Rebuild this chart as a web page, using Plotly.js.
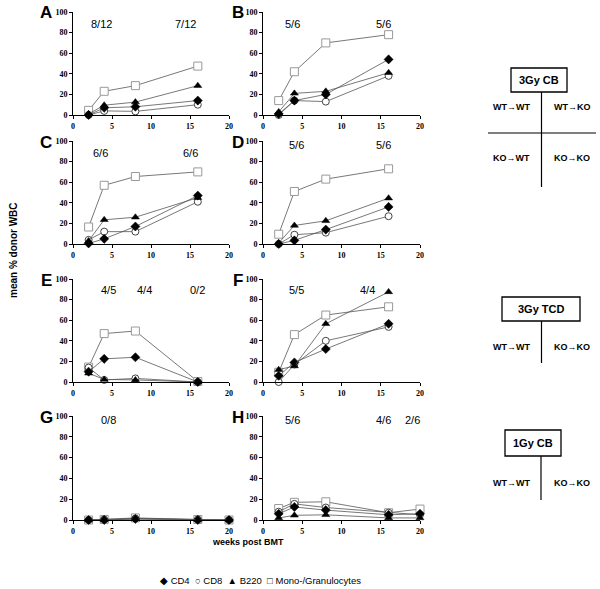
<!DOCTYPE html>
<html>
<head>
<meta charset="utf-8">
<script src="https://cdn.plot.ly/plotly-3.0.1.min.js"></script>
<style>html,body{margin:0;padding:0;background:#fff;}#chart{width:600px;height:589px;}</style>
</head>
<body>
<div id="chart"></div>
<script>
// ---------- DATA ----------
const panels = ["A","B","C","D","E","F","G","H"];
const weeks4 = [2, 4, 8, 16];
const weeks5 = [2, 4, 8, 16, 20];
const seriesNames = ["CD4", "CD8", "B220", "Mono-/Granulocytes"];

const A_CD4 = [0, 7, 8, 14];
const A_CD8 = [0, 4, 3.5, 10];
const A_B220 = [1, 9.5, 12.5, 28.5];
const A_Mono = [4.5, 23, 28.5, 47.5];

const B_CD4 = [1, 14, 20, 54];
const B_CD8 = [0, 14, 13, 38];
const B_B220 = [3, 21, 23, 41];
const B_Mono = [14, 42, 70, 78];

const C_CD4 = [0.5, 5, 17, 47];
const C_CD8 = [4, 12, 12, 41];
const C_B220 = [3, 23.5, 26, 45];
const C_Mono = [16.5, 57, 65.5, 70];

const D_CD4 = [0, 3.5, 14, 36];
const D_CD8 = [0, 9, 11, 27];
const D_B220 = [1, 18, 22.5, 44.5];
const D_Mono = [9.5, 51, 63, 73];

const E_CD4 = [10, 22.5, 24, 0];
const E_CD8 = [14, 2, 3.5, 0];
const E_B220 = [8.5, 2.5, 2, 0];
const E_Mono = [14.5, 47, 49.5, 0.5];

const F_CD4 = [6, 19, 32, 56.5];
const F_CD8 = [0, 17, 40, 53.5];
const F_B220 = [12, 15.5, 56.5, 87.5];
const F_Mono = [9.5, 46, 65, 73];

const G_CD4 = [0, 0, 1, 0, 0];
const G_CD8 = [0, 0.5, 1.5, 0.5, 0];
const G_B220 = [0, 0, 1, 0, 0];
const G_Mono = [0, 0.5, 2, 0.5, 0];

const H_CD4 = [6, 12.5, 9.5, 5, 6];
const H_CD8 = [8, 15.5, 12, 7, 5];
const H_B220 = [2, 4.5, 5, 2, 2];
const H_Mono = [11, 17, 17.5, 7, 10.5];

// engraftment counts per panel: [week position, text]
const countX = {A:[3.7,14.4], B:[3.7,15.3], C:[3.5,15.1], D:[4.3,15.3], E:[4.5,9.2,16], F:[4.3,13.3], G:[4.5], H:[3.7,15.3,19.1]};
const countText = {A:["8/12","7/12"], B:["5/6","5/6"], C:["6/6","6/6"], D:["5/6","5/6"], E:["4/5","4/4","0/2"], F:["5/5","4/4"], G:["0/8"], H:["5/6","4/6","2/6"]};
const countY = {A:88, B:88, C:88, D:96, E:89, F:89, G:96, H:96};

const xTicks = [0, 5, 10, 15, 20];
const yTicks = [0, 20, 40, 60, 80, 100];

const panelData = {
  A:{x:weeks4, s:[A_CD4, A_CD8, A_B220, A_Mono]},
  B:{x:weeks4, s:[B_CD4, B_CD8, B_B220, B_Mono]},
  C:{x:weeks4, s:[C_CD4, C_CD8, C_B220, C_Mono]},
  D:{x:weeks4, s:[D_CD4, D_CD8, D_B220, D_Mono]},
  E:{x:weeks4, s:[E_CD4, E_CD8, E_B220, E_Mono]},
  F:{x:weeks4, s:[F_CD4, F_CD8, F_B220, F_Mono]},
  G:{x:weeks5, s:[G_CD4, G_CD8, G_B220, G_Mono]},
  H:{x:weeks5, s:[H_CD4, H_CD8, H_B220, H_Mono]}
};

// ---------- LAYOUT GEOMETRY (pixels) ----------
const W = 600, H = 589;
const px = v => v / W;
const py = v => 1 - v / H;
const colX = [[73, 229], [263, 420]];
const rowY = [[12, 115], [141, 244], [279, 382], [416, 520]];

const markerStyles = [
  {symbol:"diamond", size:7, color:"#000", line:{color:"#000", width:0.5}},
  {symbol:"circle", size:7, color:"#fff", line:{color:"#444", width:1}},
  {symbol:"triangle-up", size:7, color:"#000", line:{color:"#000", width:0.5}},
  {symbol:"square", size:8, color:"#fff", line:{color:"#999", width:1}}
];
const drawOrder = [3, 1, 0, 2];

const traces = [];
const layout = {
  width: W, height: H,
  margin: {l:0, r:0, t:0, b:0},
  paper_bgcolor: "#fff", plot_bgcolor: "rgba(0,0,0,0)",
  showlegend: false,
  font: {color: "#000000"},
  annotations: [], shapes: []
};

const tickFont = {family:"Liberation Serif, Times New Roman, serif", size:8, color:"#000000", weight:"bold"};

panels.forEach((p, i) => {
  const col = i % 2, row = Math.floor(i / 2);
  const n = i + 1;
  const xa = "x" + (n === 1 ? "" : n), ya = "y" + (n === 1 ? "" : n);
  const xKey = "xaxis" + (n === 1 ? "" : n), yKey = "yaxis" + (n === 1 ? "" : n);
  layout[xKey] = {
    domain: [px(colX[col][0]), px(colX[col][1])],
    anchor: ya, range: [0, 20], tickvals: xTicks, ticktext: xTicks.map(String),
    color: "#000000",
    ticks: "outside", ticklen: 3, tickcolor: "#000", tickwidth: 1,
    showline: true, linecolor: "#000", linewidth: 1,
    showgrid: false, zeroline: false, tickfont: tickFont, fixedrange: true
  };
  layout[yKey] = {
    domain: [py(rowY[row][1]), py(rowY[row][0])],
    anchor: xa, range: [0, 100], tickvals: yTicks, ticktext: yTicks.map(String),
    color: "#000000",
    ticks: "outside", ticklen: 3, tickcolor: "#000", tickwidth: 1,
    showline: true, linecolor: "#000", linewidth: 1,
    showgrid: false, zeroline: false, tickfont: tickFont, fixedrange: true
  };
  const d = panelData[p];
  drawOrder.forEach(k => {
    traces.push({
      type: "scatter", mode: "lines+markers",
      x: d.x, y: d.s[k], name: seriesNames[k],
      xaxis: xa, yaxis: ya, cliponaxis: false,
      line: {color: "#555", width: 0.8},
      marker: markerStyles[k]
    });
  });
  // counts
  countText[p].forEach((t, j) => {
    layout.annotations.push({
      xref: xa, yref: ya, x: countX[p][j], y: countY[p], text: t, showarrow: false,
      font: {family: "Liberation Sans, Arial, sans-serif", size: 11, color: "#000"}
    });
  });
  // panel letter
  layout.annotations.push({
    xref: "paper", yref: "paper", x: px(col === 0 ? 46 : 238), y: py(rowY[row][0] + 1),
    text: "<b>" + p + "</b>", showarrow: false, xanchor: "center", yanchor: "middle",
    font: {family: "Liberation Sans, Arial, sans-serif", size: 17, color: "#000"}
  });
});

// axis titles
layout.annotations.push({
  xref: "paper", yref: "paper", x: px(13), y: py(250), textangle: -90,
  text: "<b>mean % donor WBC</b>", showarrow: false, xanchor: "center", yanchor: "middle",
  font: {family: "Liberation Sans, Arial, sans-serif", size: 10, color: "#000"}
});
layout.annotations.push({
  xref: "paper", yref: "paper", x: px(248), y: py(542),
  text: "<b>weeks post BMT</b>", showarrow: false, xanchor: "center", yanchor: "middle",
  font: {family: "Liberation Sans, Arial, sans-serif", size: 9, color: "#000"}
});
// legend line
layout.annotations.push({
  xref: "paper", yref: "paper", x: px(260), y: py(580),
  text: "◆ CD4  ○ CD8  ▲ B220  □ Mono-/Granulocytes", showarrow: false,
  xanchor: "center", yanchor: "middle",
  font: {family: "Liberation Sans, Arial, sans-serif", size: 9.5, color: "#000"}
});

// ---------- side diagrams ----------
const lineStyle = {color: "#000", width: 1.2};
function rect(x0, y0, x1, y1) {
  layout.shapes.push({type: "rect", xref: "paper", yref: "paper",
    x0: px(x0), x1: px(x1), y0: py(y1), y1: py(y0), line: {color: "#000", width: 1.3}, fillcolor: "rgba(0,0,0,0)"});
}
function seg(x0, y0, x1, y1) {
  layout.shapes.push({type: "line", xref: "paper", yref: "paper",
    x0: px(x0), x1: px(x1), y0: py(y0), y1: py(y1), line: lineStyle});
}
function label(x, y, t, size) {
  layout.annotations.push({xref: "paper", yref: "paper", x: px(x), y: py(y), text: "<b>" + t + "</b>",
    showarrow: false, xanchor: "center", yanchor: "middle",
    font: {family: "Liberation Sans, Arial, sans-serif", size: size, color: "#000"}});
}
// 3Gy CB
rect(511, 68, 567, 92); label(539, 80, "3Gy CB", 11);
seg(541.5, 92, 541.5, 187); seg(488, 133, 596, 133);
label(511, 107, "WT→WT", 9); label(572, 107, "WT→KO", 9);
label(511, 158, "KO→WT", 9); label(572, 158, "KO→KO", 9);
// 3Gy TCD
rect(502, 297, 580, 321); label(541, 309, "3Gy TCD", 11);
seg(541.5, 321, 541.5, 363);
label(511, 347, "WT→WT", 9); label(572, 347, "KO→KO", 9);
// 1Gy CB
rect(505, 430, 561, 456); label(533, 443, "1Gy CB", 11);
seg(541, 456, 541, 500);
label(511, 483, "WT→WT", 9); label(572, 483, "KO→KO", 9);

Plotly.newPlot("chart", traces, layout, {staticPlot: true, displayModeBar: false});
</script>
</body>
</html>
